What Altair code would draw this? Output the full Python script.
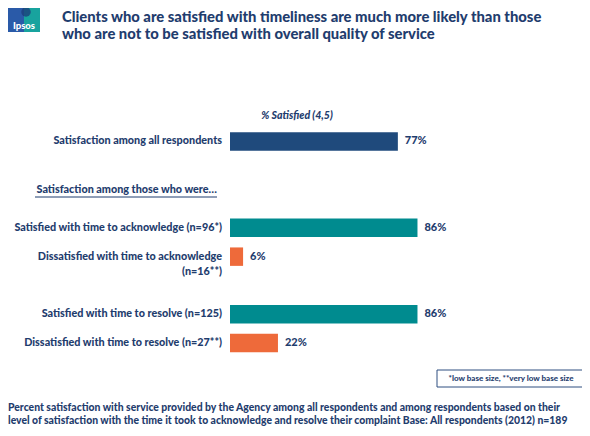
import altair as alt
import pandas as pd

# ---- data ----
labels = [
    "Satisfaction among all respondents",
    "Satisfied with time to acknowledge (n=96*)",
    "Dissatisfied with time to acknowledge|(n=16**)",
    "Satisfied with time to resolve (n=125)",
    "Dissatisfied with time to resolve (n=27**)",
]
values = [77, 86, 6, 86, 22]
groups = ["All respondents", "Satisfied", "Dissatisfied", "Satisfied", "Dissatisfied"]

title_lines = [
    "Clients who are satisfied with timeliness are much more likely than those",
    "who are not to be satisfied with overall quality of service",
]
axis_title = "% Satisfied (4,5)"
subheading = "Satisfaction among those who were\u2026"
footnote = "*low base size, **very low base size"
base_lines = [
    "Percent satisfaction with service provided by the Agency among all respondents and among  respondents based on their",
    "level of satisfaction with the time it took to acknowledge and resolve their complaint  Base: All respondents (2012) n=189",
]

# slot order on the y band scale (blank slots are spacing rows)
slots = [labels[0], " ", "  ", labels[1], labels[2], "   ", labels[3], labels[4]]

NAVY = "#1F4A7C"
TEAL = "#008B8F"
ORANGE = "#EE6A3A"
TXT = "#1F3D6E"
FONT = "Lato"
W = 900

df = pd.DataFrame({
    "label": labels,
    "value": values,
    "group": groups,
    "pct": [f"{v}%" for v in values],
})

xs = alt.Scale(domain=[0, 100], range=[222, 440])
ys = alt.Scale(domain=slots, range=[119, 349.5], paddingInner=0.36, paddingOuter=0.18)
cs = alt.Scale(domain=["All respondents", "Satisfied", "Dissatisfied"], range=[NAVY, TEAL, ORANGE])

base = alt.Chart(df)

bars = base.mark_bar().encode(
    x=alt.X("value:Q", scale=xs, axis=None),
    y=alt.Y("label:N", scale=ys, axis=None),
    color=alt.Color("group:N", scale=cs, legend=None),
)

vals = base.mark_text(align="left", baseline="middle", dx=7, font=FONT, fontWeight=W,
                      fontSize=11, color=TXT).encode(
    x=alt.X("value:Q", scale=xs, axis=None),
    y=alt.Y("label:N", scale=ys, axis=None),
    text="pct:N",
)

cat_labels = base.mark_text(align="right", baseline="middle", lineBreak="|", lineHeight=15,
                            font=FONT, fontWeight=W, fontSize=10.8, color=TXT).encode(
    x=alt.value(214),
    y=alt.Y("label:N", scale=ys, axis=None),
    text="label:N",
)


def text_layer(txt, x, y, size, align="left", style="normal"):
    return alt.Chart(pd.DataFrame({"t": [txt]})).mark_text(
        align=align, baseline="middle", font=FONT, fontWeight=W, fontStyle=style,
        fontSize=size, color=TXT).encode(x=alt.value(x), y=alt.value(y), text="t:N")


# title
title1 = text_layer(title_lines[0], 54, 10, 14.8)
title2 = text_layer(title_lines[1], 54, 27, 14.8)

# logo
one = pd.DataFrame({"a": [0]})
logo_blue = alt.Chart(one).mark_rect(color="#2A5AA8").encode(
    x=alt.value(0), x2=alt.value(20), y=alt.value(-8), y2=alt.value(24))
logo_teal = alt.Chart(one).mark_rect(color="#18A39E").encode(
    x=alt.value(16), x2=alt.value(32), y=alt.value(-8), y2=alt.value(24))
logo_head = alt.Chart(one).mark_point(shape="circle", filled=True, size=90,
                                      color="#1C3F7A", opacity=0.8).encode(
    x=alt.value(18), y=alt.value(4))
logo_txt = alt.Chart(pd.DataFrame({"t": ["Ipsos"]})).mark_text(
    align="center", baseline="middle", font=FONT, fontWeight=W,
    fontSize=9.5, color="white").encode(x=alt.value(16), y=alt.value(18), text="t:N")

# axis title
atitle = text_layer(axis_title, 289, 108, 10.5, align="center", style="italic")

# subheading with underline
sub = text_layer(subheading, 209, 182, 10.8, align="right")
sub_line = alt.Chart(one).mark_rule(color=TXT, strokeWidth=1).encode(
    x=alt.value(27), x2=alt.value(209), y=alt.value(189))

# footnote box
fbox = alt.Chart(one).mark_rect(fill="white", stroke="#2F4F80", strokeWidth=1).encode(
    x=alt.value(429), x2=alt.value(577), y=alt.value(362), y2=alt.value(379))
ftxt = text_layer(footnote, 503, 370.5, 8, align="center")

# base note
bnote1 = text_layer(base_lines[0], 0, 400, 10.4)
bnote2 = text_layer(base_lines[1], 0, 413, 10.4)

chart = alt.layer(
    logo_blue, logo_teal, logo_head, logo_txt, title1, title2, atitle, sub, sub_line,
    bars, vals, cat_labels, fbox, ftxt, bnote1, bnote2,
).properties(
    width=574, height=420, autosize="none", padding=0,
).configure_view(stroke=None)

chart.save("out.html", embed_options={"renderer": "svg", "actions": False})
